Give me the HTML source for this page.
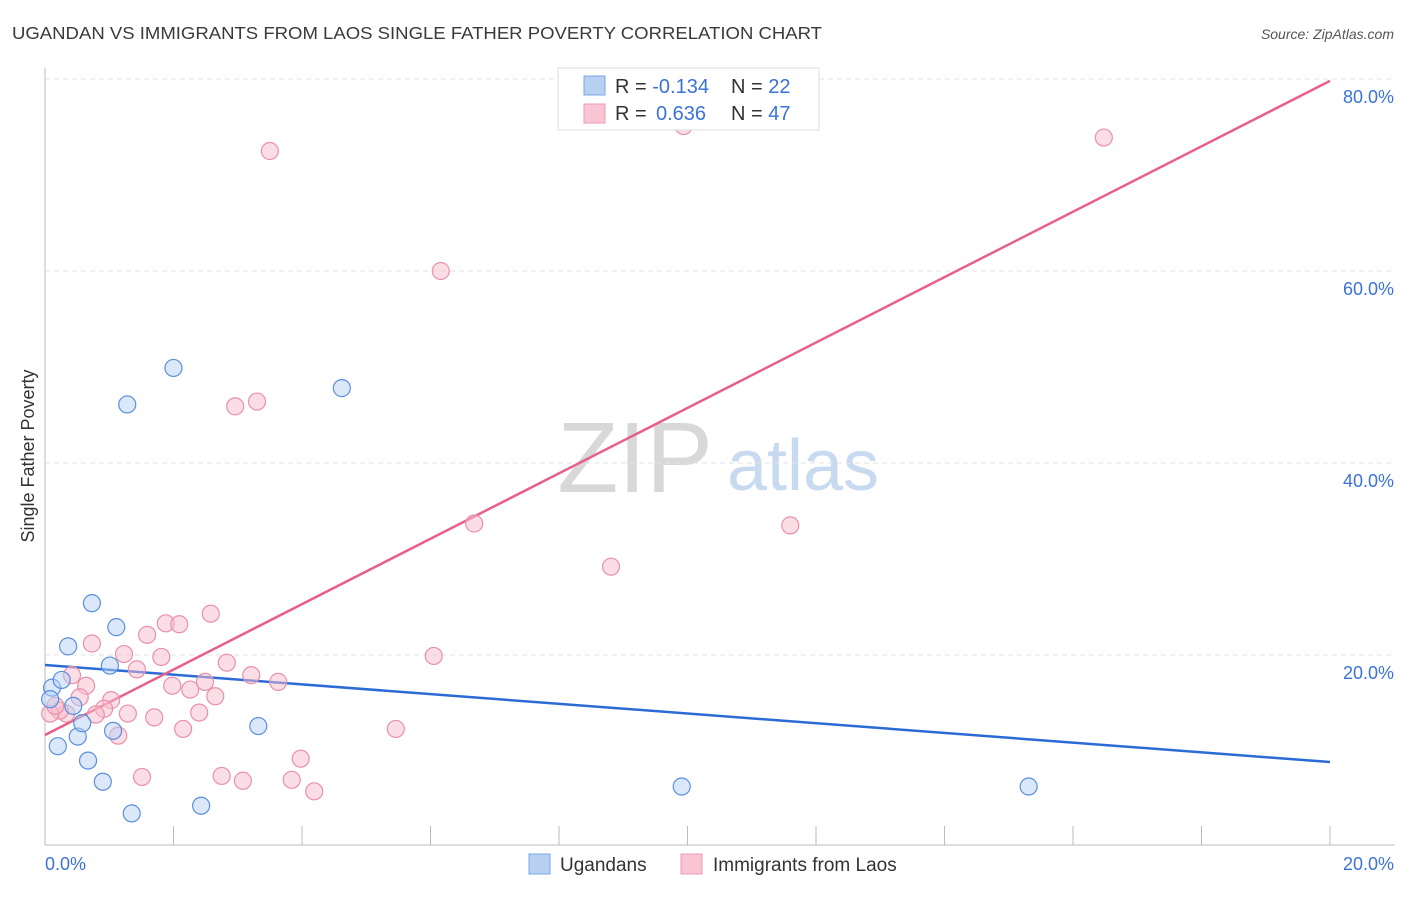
<!DOCTYPE html>
<html><head><meta charset="utf-8"><style>
body{margin:0;background:#fff;font-family:"Liberation Sans",sans-serif;}
svg text{font-family:"Liberation Sans",sans-serif;}
</style></head><body>
<svg id="chart" width="1406" height="892" xmlns="http://www.w3.org/2000/svg">
<text x="12" y="39" font-size="17.5" fill="#3a3a3a" textLength="810" lengthAdjust="spacingAndGlyphs">UGANDAN VS IMMIGRANTS FROM LAOS SINGLE FATHER POVERTY CORRELATION CHART</text>
<text x="1394" y="39" font-size="14" fill="#555" text-anchor="end" font-style="italic">Source: ZipAtlas.com</text>
<text transform="translate(34,456) rotate(-90)" font-size="18" fill="#333" text-anchor="middle">Single Father Poverty</text>
<g>
<text x="635" y="492" font-size="100" fill="#d8d8d8" font-family="Liberation Serif" text-anchor="middle">ZIP</text>
<text x="803" y="490" font-size="72" fill="#c8daf0" text-anchor="middle">atlas</text>
</g>
<g id="grid"></g><g id="axes"></g><g id="lines"></g><g id="pts"></g>
<g>
<rect x="558" y="68" width="261" height="62" fill="#fff" stroke="#ddd"/>
<rect x="584" y="76" width="21" height="19" fill="#b8d1f3" stroke="#7aa6e6"/>
<rect x="584" y="104" width="21" height="19" fill="#f9c4d4" stroke="#ee9ab3"/>
<text x="615" y="93" font-size="20" fill="#333">R = <tspan fill="#3b72d9">-0.134</tspan><tspan x="731">N = </tspan><tspan fill="#3b72d9">22</tspan></text>
<text x="615" y="120" font-size="20" fill="#333">R = <tspan x="656" fill="#3b72d9">0.636</tspan><tspan x="731">N = </tspan><tspan fill="#3b72d9">47</tspan></text>
</g>
<g>
<rect x="529" y="854" width="21" height="20" fill="#b8d1f3" stroke="#7aa6e6"/>
<text x="560" y="871" font-size="19" fill="#333">Ugandans</text>
<rect x="681" y="854" width="21" height="20" fill="#f9c4d4" stroke="#ee9ab3"/>
<text x="713" y="871" font-size="19" fill="#333">Immigrants from Laos</text>
</g>
</svg>
<script>
const xTicks=[0,2,4,6,8,10,12,14,16,18,20];
const yTicks=[20,40,60,80];
const blueX=[0.11,0.26,0.36,0.2,0.51,0.58,0.44,0.73,1.01,1.11,1.06,0.67,0.9,1.35,1.28,2.0,2.43,3.32,4.62,9.91,15.31,0.08];
const blueY=[16.6,17.4,20.9,10.5,11.5,12.9,14.7,25.4,18.9,22.9,12.1,9.0,6.8,3.5,46.1,49.9,4.3,12.6,47.8,6.3,6.3,15.4];
const pinkX=[3.5,6.16,9.94,16.48,2.96,3.3,6.68,8.81,11.6,6.05,5.46,0.73,1.23,1.59,1.88,2.09,2.58,1.81,1.43,1.98,2.26,2.49,2.83,3.21,3.63,2.65,2.4,2.15,1.7,1.29,1.03,0.92,0.79,0.64,0.42,0.54,0.33,1.14,1.51,2.75,3.08,3.84,3.98,4.19,0.23,0.08,0.16];
const pinkY=[72.5,60.0,75.1,73.9,45.9,46.4,33.7,29.2,33.5,19.9,12.3,21.2,20.1,22.1,23.3,23.2,24.3,19.8,18.5,16.8,16.4,17.2,19.2,17.9,17.2,15.7,14.0,12.3,13.5,13.9,15.3,14.4,13.8,16.8,17.9,15.6,13.9,11.6,7.3,7.4,6.9,7.0,9.2,5.8,14.2,13.9,14.7];
const blueFit=[18.96,8.85];
const pinkFit=[11.67,79.8];
const NS="http://www.w3.org/2000/svg";
const X=v=>45+v/20*1285, Y=v=>847-v/80*768;
function mk(t,a,p){const e=document.createElementNS(NS,t);for(const k in a)e.setAttribute(k,a[k]);document.getElementById(p).appendChild(e);return e;}
yTicks.forEach(v=>{
 const l=mk('line',{x1:45,x2:1395,y1:Y(v),y2:Y(v),stroke:'#e2e2e2','stroke-dasharray':'5,4'},'grid');
 
 
 const t=mk('text',{x:1394,y:Y(v)+24,'font-size':18,fill:'#3b72d9','text-anchor':'end'},'grid');
 t.textContent=v.toFixed(1)+'%';
 
 
});
let a=mk('line',{x1:45,x2:45,y1:68,y2:845,stroke:'#bbb'},'axes');


a=mk('line',{x1:45,x2:1395,y1:845,y2:845,stroke:'#bbb'},'axes');


xTicks.forEach(v=>{
 const t=mk('line',{x1:X(v),x2:X(v),y1:826,y2:845,stroke:'#bbb'},'axes');
 
 
});
[[0,'start',45],[20,'end',1394]].forEach(([v,anc,x])=>{
 const t=mk('text',{x:x,y:870,'font-size':18,fill:'#3b72d9','text-anchor':anc},'axes');
 t.textContent=v.toFixed(1)+'%';
 
 
});
function pts(xs,ys,fill,stroke,name){xs.forEach((x,i)=>{
 const c=mk('circle',{cx:X(x),cy:Y(ys[i]),r:8.5,fill:fill,'fill-opacity':0.5,stroke:stroke,'stroke-width':1.2},'pts');
 
 
});}
pts(pinkX,pinkY,'#f7bccd','#e990aa','laos-point');
pts(blueX,blueY,'#b8d1f3','#5b8fdc','ugandan-point');
let f=mk('line',{x1:X(0),y1:Y(blueFit[0]),x2:X(20),y2:Y(blueFit[1]),stroke:'#2a6bd6','stroke-width':2.5},'lines');


f=mk('line',{x1:X(0),y1:Y(pinkFit[0]),x2:X(20),y2:Y(pinkFit[1]),stroke:'#e8608a','stroke-width':2.5},'lines');


</script>
</body></html>
